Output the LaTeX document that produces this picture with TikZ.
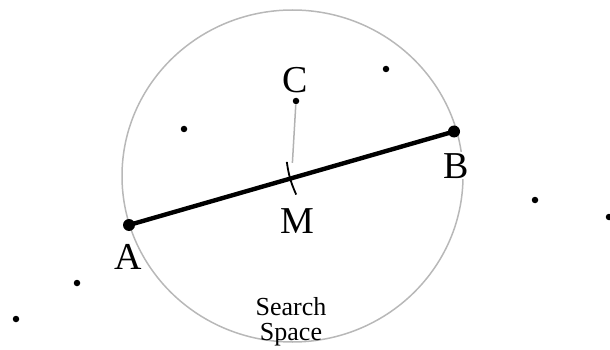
\documentclass[tikz,border=0pt]{standalone}
\usepackage{fontspec}
\setmainfont{Liberation Serif}
\usetikzlibrary{calc}
\begin{document}
\begin{tikzpicture}[x=1pt,y=-1pt,
  dot/.style={circle,fill=black,inner sep=0pt,minimum size=6.5pt},
  bigdot/.style={circle,fill=black,inner sep=0pt,minimum size=12pt},
  lbl/.style={font=\fontsize{38}{40}\selectfont,inner sep=1pt,anchor=base,fill=white},
  space/.style={draw=black!28,line width=1.5pt},
  link/.style={draw=black!30,line width=1.5pt},
  seg/.style={draw=black,line width=4.4pt}]
\useasboundingbox (0,0) rectangle (610,350);
% search space
\draw[space] (292.5,176) ellipse [x radius=170.5, y radius=166];
% points
\coordinate (A) at (129,225);
\coordinate (B) at (454,131.5);
\coordinate (M) at ($(A)!0.5!(B)$);
\node[dot] (C) at (296,101) {};
\node[dot] (p1) at (386,69) {};
\node[dot] (p2) at (184,129) {};
\node[dot] (p3) at (535,200) {};
\node[dot] (p4) at (609,217) {};
\node[dot] (p5) at (77,283) {};
\node[dot] (p6) at (16,319) {};
% labels
\node[lbl,fill=none] (lA) at (128,269) {A};
\node[lbl] (lB) at (456,178) {B};
\node[lbl] (lC) at (295,93) {C};
\node[lbl,fill=none] (lM) at (297,233) {M};
\node[font=\fontsize{26}{25}\selectfont,align=center,anchor=north,inner sep=0pt] (ss) at (291,297) {Search\\Space};
% segment AB
\draw[seg] (A) -- (B);
\node[bigdot] (nA) at (A) {};
\node[bigdot] (nB) at (B) {};
% perpendicular from C
\coordinate (T1) at ($(M)!17pt!90:(B)$);
\coordinate (T2) at ($(M)!17pt!-90:(B)$);
\draw[link] (C) -- ($(C)!0.8!(M)$);
\draw[line width=1.8pt] (T2) to[bend left=8] (T1);
\end{tikzpicture}
\end{document}
